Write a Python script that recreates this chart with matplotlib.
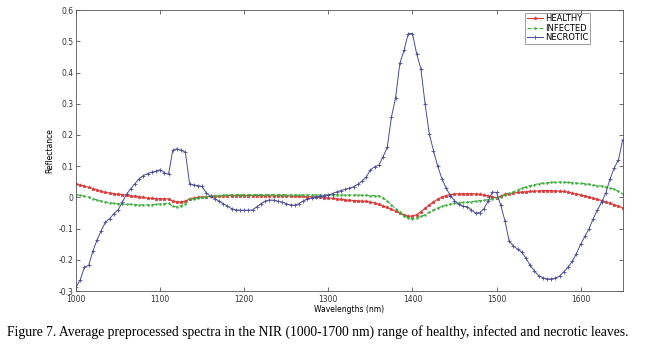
import numpy as np
import matplotlib.pyplot as plt

# wavelength grid (nm), one sample every 5 nm
wavelengths = np.arange(1000, 1651, 5)

healthy = [
    0.044, 0.040, 0.036, 0.032, 0.028, 0.024, 0.019, 0.016, 0.014, 0.012,
    0.010, 0.009, 0.007, 0.005, 0.004, 0.002, 0.000, -0.002, -0.003, -0.004,
    -0.004, -0.004, -0.005, -0.012, -0.014, -0.014, -0.013, -0.004, -0.002, 0.000,
    0.001, 0.002, 0.003, 0.004, 0.005, 0.005, 0.006, 0.006, 0.006, 0.006,
    0.006, 0.006, 0.006, 0.006, 0.006, 0.006, 0.005, 0.005, 0.005, 0.005,
    0.005, 0.004, 0.004, 0.003, 0.003, 0.002, 0.002, 0.001, 0.000, -0.001,
    -0.002, -0.003, -0.005, -0.006, -0.008, -0.009, -0.010, -0.011, -0.012, -0.013,
    -0.015, -0.018, -0.022, -0.027, -0.032, -0.038, -0.044, -0.050, -0.056, -0.060,
    -0.060, -0.055, -0.046, -0.035, -0.024, -0.014, -0.006, 0.001, 0.006, 0.009,
    0.011, 0.012, 0.012, 0.012, 0.012, 0.011, 0.010, 0.008, 0.005, 0.002,
    -0.001, 0.004, 0.010, 0.012, 0.014, 0.016, 0.017, 0.018, 0.019, 0.020,
    0.021, 0.022, 0.022, 0.022, 0.021, 0.020, 0.019, 0.017, 0.014, 0.011,
    0.008, 0.005, 0.001, -0.003, -0.006, -0.010, -0.014, -0.019, -0.024, -0.028,
    -0.033,
]

infected = [
    0.009, 0.007, 0.004, 0.001, -0.004, -0.008, -0.012, -0.015, -0.017, -0.019,
    -0.020, -0.021, -0.022, -0.022, -0.023, -0.024, -0.024, -0.024, -0.023, -0.022,
    -0.021, -0.020, -0.018, -0.029, -0.030, -0.026, -0.022, -0.006, -0.004, -0.002,
    0.000, 0.002, 0.003, 0.005, 0.006, 0.007, 0.008, 0.009, 0.009, 0.009,
    0.009, 0.009, 0.009, 0.009, 0.009, 0.009, 0.009, 0.009, 0.009, 0.009,
    0.008, 0.008, 0.008, 0.008, 0.008, 0.008, 0.008, 0.008, 0.008, 0.008,
    0.008, 0.008, 0.008, 0.008, 0.008, 0.008, 0.008, 0.008, 0.007, 0.007,
    0.006, 0.006, 0.005, -0.002, -0.012, -0.024, -0.036, -0.048, -0.058, -0.066,
    -0.068, -0.066, -0.061, -0.055, -0.047, -0.040, -0.034, -0.029, -0.025, -0.022,
    -0.019, -0.017, -0.016, -0.015, -0.014, -0.012, -0.010, -0.009, -0.007, -0.004,
    -0.001, 0.002, 0.008, 0.013, 0.018, 0.024, 0.029, 0.034, 0.038, 0.041,
    0.044, 0.046, 0.047, 0.048, 0.049, 0.049, 0.049, 0.048, 0.047, 0.046,
    0.045, 0.044, 0.042, 0.040, 0.038, 0.036, 0.033, 0.030, 0.026, 0.019,
    0.012,
]

necrotic = [
    -0.287, -0.264, -0.223, -0.218, -0.172, -0.136, -0.106, -0.079, -0.068, -0.052,
    -0.040, -0.015, 0.010, 0.028, 0.044, 0.060, 0.070, 0.076, 0.081, 0.084,
    0.089, 0.079, 0.074, 0.151, 0.156, 0.151, 0.145, 0.044, 0.040, 0.038,
    0.035, 0.014, 0.003, -0.004, -0.012, -0.020, -0.028, -0.036, -0.040, -0.041,
    -0.041, -0.041, -0.040, -0.030, -0.020, -0.012, -0.008, -0.009, -0.012, -0.015,
    -0.020, -0.024, -0.025, -0.020, -0.012, -0.005, -0.002, 0.002, 0.004, 0.006,
    0.008, 0.012, 0.018, 0.022, 0.026, 0.030, 0.034, 0.042, 0.052, 0.065,
    0.088, 0.098, 0.103, 0.130, 0.160, 0.257, 0.320, 0.430, 0.471, 0.525,
    0.525, 0.460, 0.412, 0.300, 0.204, 0.150, 0.100, 0.060, 0.030, 0.006,
    -0.010, -0.022, -0.028, -0.030, -0.040, -0.050, -0.049, -0.036, -0.012, 0.017,
    0.016, -0.025, -0.075, -0.140, -0.155, -0.166, -0.175, -0.195, -0.218, -0.235,
    -0.251, -0.257, -0.261, -0.261, -0.258, -0.252, -0.238, -0.224, -0.205, -0.180,
    -0.150, -0.125, -0.100, -0.068, -0.040, -0.015, 0.015, 0.060, 0.095, 0.120,
    0.185,
]

series_labels = ['HEALTHY', 'INFECTED', 'NECROTIC']
y_ticks = [-0.3, -0.2, -0.1, 0, 0.1, 0.2, 0.3, 0.4, 0.5, 0.6]
y_ticklabels = ['-0.3', '-0.2', '-0.1', '0', '0.1', '0.2', '0.3', '0.4', '0.5', '0.6']
x_ticks = [1000, 1100, 1200, 1300, 1400, 1500, 1600]

caption = ('Figure 7. Average preprocessed spectra in the NIR (1000-1700 nm) range '
           'of healthy, infected and necrotic leaves.')

fig = plt.figure(figsize=(6.5, 3.49), dpi=100)
ax = fig.add_axes([0.117, 0.166, 0.841, 0.805])

ax.plot(wavelengths, healthy, '-', color='#d83a3a', linewidth=0.8,
        marker='*', markersize=2.5, markeredgewidth=0.5, label=series_labels[0])
ax.plot(wavelengths, infected, '--', color='#3fae3f', linewidth=0.8,
        marker='.', markersize=1.5, label=series_labels[1])
ax.plot(wavelengths, necrotic, '-', color='#4c4c96', linewidth=0.7,
        marker='+', markersize=2.5, markeredgewidth=0.6, label=series_labels[2])

ax.set_xlim(1000, 1650)
ax.set_ylim(-0.3, 0.6)
ax.set_xticks(x_ticks)
ax.set_yticks(y_ticks)
ax.set_yticklabels(y_ticklabels)
ax.tick_params(direction='in', top=True, right=True, length=3, width=0.5,
               labelsize=5.5, pad=2, colors='#333333')
ax.tick_params(axis='x', pad=2.5)
for s in ax.spines.values():
    s.set_linewidth(0.6)
    s.set_color('#555555')

ax.set_xlabel('Wavelengths (nm)', fontsize=5.5, labelpad=1)
ax.set_ylabel('Reflectance', fontsize=5.5, labelpad=3)

leg = ax.legend(loc='upper right', bbox_to_anchor=(0.945, 1.0), fontsize=6,
                frameon=True, fancybox=False, borderpad=0.2, labelspacing=0.05,
                handlelength=2.0, handletextpad=0.2, borderaxespad=0.3)
leg.get_frame().set_edgecolor('#555555')
leg.get_frame().set_linewidth(0.5)

fig.text(0.011, 0.048, caption, fontsize=9.8, family='Liberation Serif',
         ha='left', va='center')

fig.savefig('out.png', dpi=100)
